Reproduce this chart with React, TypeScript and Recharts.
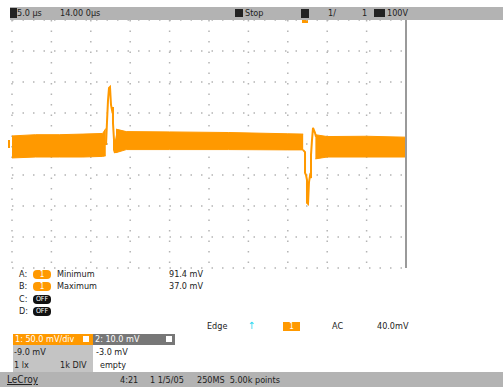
import React from 'react';
import { ComposedChart, Area, Line, XAxis, YAxis, CartesianGrid, ReferenceLine } from 'recharts';

// horizontal: 10 divisions of time, vertical: 8 divisions
const timeTicks = [0, 1, 2, 3, 4, 5, 6, 7, 8, 9, 10];
const levelTicks = [0, 1, 2, 3, 4, 5, 6, 7, 8];

// noise envelope of the trace [min, max] (divisions)
const bandBefore = [
  { t: 0.0, range: [3.55, 4.26] },
  { t: 0.6, range: [3.58, 4.3] },
  { t: 1.2, range: [3.58, 4.3] },
  { t: 1.8, range: [3.58, 4.32] },
  { t: 2.3, range: [3.6, 4.34] },
  { t: 2.38, range: [3.62, 4.5] },
];
const bandMiddle = [
  { t: 2.64, range: [3.72, 4.48] },
  { t: 2.9, range: [3.82, 4.4] },
  { t: 4.0, range: [3.82, 4.39] },
  { t: 5.5, range: [3.82, 4.37] },
  { t: 7.0, range: [3.81, 4.33] },
  { t: 7.39, range: [3.81, 4.32] },
];
const bandAfter = [
  { t: 7.7, range: [3.52, 4.3] },
  { t: 8.0, range: [3.58, 4.24] },
  { t: 9.0, range: [3.58, 4.25] },
  { t: 10.0, range: [3.58, 4.22] },
];

// transients
const spike = [
  { t: 2.386, v: 3.97 },
  { t: 2.411, v: 4.71 },
  { t: 2.437, v: 5.42 },
  { t: 2.462, v: 5.81 },
  { t: 2.487, v: 5.84 },
  { t: 2.513, v: 5.26 },
  { t: 2.538, v: 5.1 },
  { t: 2.563, v: 5.19 },
  { t: 2.563, v: 4.68 },
  { t: 2.589, v: 4.13 },
  { t: 2.589, v: 3.81 },
  { t: 2.614, v: 3.71 },
  { t: 2.64, v: 4.13 },
  { t: 2.665, v: 4.29 },
];
const dip = [
  { t: 7.386, v: 3.81 },
  { t: 7.437, v: 3.74 },
  { t: 7.437, v: 3.07 },
  { t: 7.462, v: 3.0 },
  { t: 7.487, v: 2.84 },
  { t: 7.487, v: 2.1 },
  { t: 7.513, v: 2.07 },
  { t: 7.538, v: 2.77 },
  { t: 7.563, v: 2.97 },
  { t: 7.589, v: 2.9 },
  { t: 7.589, v: 3.65 },
  { t: 7.614, v: 4.13 },
  { t: 7.64, v: 4.52 },
  { t: 7.69, v: 4.36 },
  { t: 7.716, v: 4.23 },
];

const topLabels = { timebase: '5.0 µs', delay: '14.00 0µs', mode: 'Stop', trig: '1/', chan: '1', level: '100V' };
const measRows = [
  { slot: 'A:', src: '1', name: 'Minimum', value: '91.4 mV', on: true },
  { slot: 'B:', src: '1', name: 'Maximum', value: '37.0 mV', on: true },
  { slot: 'C:', src: 'OFF', name: '', value: '', on: false },
  { slot: 'D:', src: 'OFF', name: '', value: '', on: false },
];
const trigRow = { type: 'Edge', src: '1', coupling: 'AC', level: '40.0mV' };
const chanBoxes = [
  { title: '1: 50.0 mV/div', a: '-9.0 mV', b: '1 lx', c: '1k DIV' },
  { title: '2: 10.0 mV', a: '-3.0 mV', b: 'empty', c: '' },
];
const statusTexts = { brand: 'LeCroy', time: '4:21', date: '1 1/5/05', rate: '250MS  5.00k points' };

const ORANGE = '#FF9900';
const FONT = '"DejaVu Sans Condensed", "Liberation Sans Narrow", "DejaVu Sans", sans-serif';

const abs = (left: number, top: number, extra: React.CSSProperties = {}): React.CSSProperties => ({
  position: 'absolute',
  left,
  top,
  ...extra,
});

const txt: React.CSSProperties = { fontFamily: FONT, fontSize: 9, color: '#222', lineHeight: '11px', whiteSpace: 'pre' };

export default function App() {
  return (
    <div style={{ position: 'absolute', left: 0, top: 0, width: 503, height: 387, background: '#fff', overflow: 'hidden' }}>
      {/* top bar */}
      <div style={abs(10, 7, { width: 493, height: 13, background: '#b3b3b3' })} />
      <div style={abs(10, 8, { width: 7, height: 10, background: '#222' })} />
      <div style={abs(17, 8, txt)}>{topLabels.timebase}</div>
      <div style={abs(60, 8, txt)}>{topLabels.delay}</div>
      <div style={abs(235, 9, { width: 8, height: 8, background: '#222' })} />
      <div style={abs(245, 8, txt)}>{topLabels.mode}</div>
      <div style={abs(301, 9, { width: 8, height: 9, background: '#222' })} />
      <div style={abs(328, 8, txt)}>{topLabels.trig}</div>
      <div style={abs(362, 8, txt)}>{topLabels.chan}</div>
      <div style={abs(374, 9, { width: 11, height: 8, background: '#222' })} />
      <div style={abs(387, 8, txt)}>{topLabels.level}</div>
      <div style={abs(302, 20, { width: 6, height: 3, background: ORANGE })} />
      <div style={abs(8, 140, { width: 2, height: 8, background: ORANGE })} />

      <div style={abs(0, 0)}>
        <ComposedChart width={503} height={387} margin={{ top: 20, left: 12, right: 97, bottom: 119 }}>
          <XAxis type="number" dataKey="t" domain={[0, 10]} ticks={timeTicks} hide allowDuplicatedCategory={false} />
          <YAxis type="number" domain={[0, 8]} ticks={levelTicks} hide />
          <CartesianGrid stroke="#b4b4b4" strokeWidth={1.5} strokeDasharray="1.5 9" />
          <Area data={bandBefore} dataKey="range" type="linear" fill={ORANGE} fillOpacity={1} stroke={ORANGE} strokeWidth={1} isAnimationActive={false} />
          <Area data={bandMiddle} dataKey="range" type="linear" fill={ORANGE} fillOpacity={1} stroke={ORANGE} strokeWidth={1} isAnimationActive={false} />
          <Area data={bandAfter} dataKey="range" type="linear" fill={ORANGE} fillOpacity={1} stroke={ORANGE} strokeWidth={1} isAnimationActive={false} />
          <Line data={spike} dataKey="v" type="linear" stroke={ORANGE} strokeWidth={2} dot={false} isAnimationActive={false} />
          <Line data={dip} dataKey="v" type="linear" stroke={ORANGE} strokeWidth={2} dot={false} isAnimationActive={false} />
          <ReferenceLine x={10} stroke="#9a9a9a" strokeWidth={2} ifOverflow="visible" />
        </ComposedChart>
      </div>

      {/* measurements */}
      {measRows.map((r, i) => {
        const y = 269 + i * 12.3;
        return (
          <React.Fragment key={r.slot}>
            <div style={abs(19, y, txt)}>{r.slot}</div>
            <div
              style={abs(33, y + 1, {
                ...txt,
                width: 18,
                height: 9,
                lineHeight: '9px',
                borderRadius: 4,
                background: r.on ? ORANGE : '#111',
                color: '#fff',
                fontSize: r.on ? 8 : 7,
                textAlign: 'center',
              })}
            >
              {r.src}
            </div>
            <div style={abs(57, y, txt)}>{r.name}</div>
            <div style={abs(169, y, txt)}>{r.value}</div>
          </React.Fragment>
        );
      })}

      {/* trigger */}
      <div style={abs(207, 321, txt)}>{trigRow.type}</div>
      <div style={abs(248, 320, { ...txt, color: '#19d6f0', fontSize: 10 })}>↑</div>
      <div style={abs(283, 322, { ...txt, width: 17, height: 9, lineHeight: '9px', background: ORANGE, color: '#fff', textAlign: 'center', fontSize: 8 })}>
        {trigRow.src}
      </div>
      <div style={abs(332, 321, txt)}>{trigRow.coupling}</div>
      <div style={abs(377, 321, txt)}>{trigRow.level}</div>

      {/* channel boxes */}
      <div style={abs(13, 334, { width: 80, height: 11, background: ORANGE })} />
      <div style={abs(15, 334, { ...txt, color: '#fff' })}>{chanBoxes[0].title}</div>
      <div style={abs(83, 336, { width: 6, height: 6, background: '#fff' })} />
      <div style={abs(93, 334, { width: 82, height: 11, background: '#777' })} />
      <div style={abs(95, 334, { ...txt, color: '#fff' })}>{chanBoxes[1].title}</div>
      <div style={abs(166, 336, { width: 6, height: 6, background: '#fff' })} />
      <div style={abs(13, 345, { width: 80, height: 27, background: '#c4c4c4' })} />
      <div style={abs(14, 347, txt)}>{chanBoxes[0].a}</div>
      <div style={abs(14, 360, txt)}>{chanBoxes[0].b}</div>
      <div style={abs(60, 360, txt)}>{chanBoxes[0].c}</div>
      <div style={abs(96, 347, txt)}>{chanBoxes[1].a}</div>
      <div style={abs(100, 360, txt)}>{chanBoxes[1].b}</div>

      {/* status bar */}
      <div style={abs(0, 372, { width: 503, height: 15, background: '#b3b3b3' })} />
      <div style={abs(7, 374, { ...txt, fontSize: 10, textDecoration: 'underline' })}>{statusTexts.brand}</div>
      <div style={abs(120, 375, txt)}>{statusTexts.time}</div>
      <div style={abs(150, 375, txt)}>{statusTexts.date}</div>
      <div style={abs(197, 375, txt)}>{statusTexts.rate}</div>
    </div>
  );
}
